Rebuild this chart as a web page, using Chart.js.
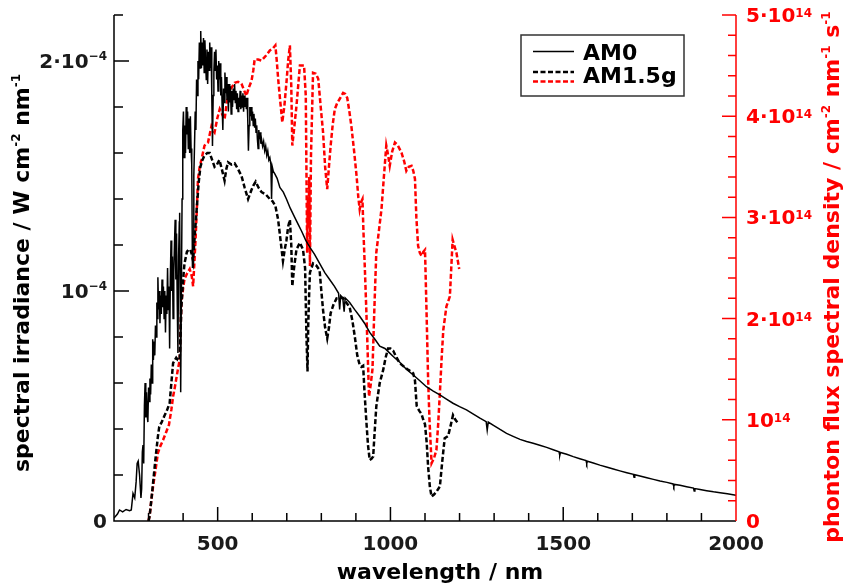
<!DOCTYPE html>
<html>
<head>
<meta charset="utf-8">
<script src="https://cdn.jsdelivr.net/npm/chart.js@4.4.1/dist/chart.umd.min.js"></script>
<style>
  html, body { margin: 0; padding: 0; background: #fff; }
</style>
</head>
<body>
<canvas id="spectrum" width="846" height="588"></canvas>
<script>
// ---- data ----
// irradiance in units of 1e-4 W cm^-2 nm^-1, photon flux in units of 1e14 cm^-2 nm^-1 s^-1
const AM0_NM = [200, 210, 216, 225, 235, 245, 250, 255, 260, 264, 267, 270, 274, 278,
  280, 282, 284, 286, 288, 290, 292, 294, 296, 298,
  300, 302, 304, 306, 308, 310, 312, 314, 316, 318,
  320, 322, 324, 326, 327, 329, 331, 333, 335, 337,
  339, 341, 343, 345, 347, 349, 351, 353, 355, 357,
  359, 361, 363, 365, 367, 369, 371, 373, 375, 377,
  379, 381, 383, 385, 387, 389, 390, 392, 393, 395,
  397, 399, 401, 403, 405, 407, 409, 411, 413, 415,
  417, 419, 421, 423, 425, 427, 429, 431, 433, 435,
  437, 439, 441, 443, 445, 447, 449, 451, 453, 455,
  457, 459, 461, 463, 465, 467, 469, 471, 473, 475,
  477, 479, 481, 483, 485, 487, 489, 491, 493, 495,
  497, 499, 501, 503, 505, 507, 509, 511, 513, 515,
  517, 519, 521, 523, 525, 527, 529, 531, 533, 535,
  537, 539, 541, 543, 545, 547, 549, 551, 553, 555,
  557, 559, 561, 563, 565, 567, 569, 571, 573, 575,
  577, 579, 581, 583, 585, 587, 589, 591, 593, 595,
  597, 599, 601, 603, 605, 607, 609, 611, 613, 615,
  617, 619, 621, 623, 625, 627, 630, 633, 636, 639,
  642, 645, 648, 651, 654, 656, 658, 661, 665,
  672, 680, 690, 699, 710, 723, 733, 743, 755, 767, 780, 795, 810, 824, 838, 850, 853, 856, 862, 866,
  869, 882, 896, 911, 925, 940, 955, 969, 984, 998, 1012, 1027, 1046, 1066, 1085, 1104, 1124, 1143, 1162, 1181,
  1200, 1220, 1240, 1259, 1277, 1280, 1283, 1297, 1316, 1336, 1355, 1375, 1394, 1413, 1432, 1452, 1471, 1488, 1490, 1492,
  1510, 1529, 1548, 1566, 1568, 1570, 1587, 1606, 1625, 1645, 1664, 1684, 1703, 1705, 1707, 1722, 1742, 1761, 1780, 1800,
  1818, 1820, 1822, 1838, 1857, 1877, 1879, 1881, 1896, 1915, 1935, 1954, 1975, 2000];
const AM0_IRR = [0.013, 0.03, 0.048, 0.04, 0.05, 0.045, 0.048, 0.12, 0.10, 0.17, 0.25, 0.26, 0.20, 0.10,
  0.14, 0.30, 0.33, 0.25, 0.50, 0.60, 0.45, 0.56, 0.46, 0.43,
  0.58, 0.52, 0.62, 0.55, 0.68, 0.60, 0.79, 0.70, 0.78, 0.72,
  0.85, 0.80, 0.95, 0.88, 1.06, 0.92, 1.00, 0.86, 0.98, 0.90,
  1.05, 0.93, 1.02, 0.88, 1.00, 0.82, 0.98, 0.90, 1.10, 0.92,
  1.02, 0.75, 1.05, 1.22, 1.00, 1.15, 0.88, 1.08, 1.20, 1.31,
  1.05, 1.25, 0.95, 0.73, 1.15, 1.30, 1.34, 0.90, 0.56, 1.00,
  1.40, 1.70, 1.78, 1.58, 1.72, 1.60, 1.80, 1.68, 1.78, 1.62,
  1.75, 1.60, 1.76, 1.62, 1.55, 1.10, 1.20, 1.50, 1.63, 1.78,
  1.70, 1.92, 1.85, 2.00, 1.92, 2.08, 1.97, 2.13, 1.97, 2.08,
  1.98, 2.10, 1.95, 2.09, 2.00, 1.92, 2.05, 1.90, 2.04, 1.96,
  2.08, 1.97, 2.06, 1.85, 1.63, 1.85, 1.95, 2.04, 1.96, 2.05,
  1.92, 1.98, 1.87, 2.00, 1.92, 1.99, 1.85, 1.93, 1.80, 1.70,
  1.88, 1.82, 1.95, 1.86, 1.93, 1.83, 1.90, 1.78, 1.90, 1.82,
  1.89, 1.77, 1.87, 1.80, 1.88, 1.83, 1.90, 1.82, 1.87, 1.79,
  1.86, 1.78, 1.84, 1.80, 1.87, 1.79, 1.85, 1.80, 1.86, 1.78,
  1.85, 1.80, 1.84, 1.79, 1.84, 1.75, 1.61, 1.72, 1.80, 1.76,
  1.80, 1.74, 1.78, 1.72, 1.77, 1.71, 1.75, 1.69, 1.72, 1.66,
  1.62, 1.70, 1.66, 1.69, 1.64, 1.66, 1.63, 1.65, 1.61, 1.63,
  1.59, 1.61, 1.57, 1.58, 1.55, 1.40, 1.54, 1.52, 1.51,
  1.49, 1.45, 1.43, 1.40, 1.36, 1.32, 1.29, 1.26, 1.22, 1.19, 1.16, 1.12, 1.08, 1.05, 1.02, 0.99, 0.92, 0.98, 0.97, 0.91,
  0.97, 0.95, 0.92, 0.89, 0.86, 0.82, 0.79, 0.76, 0.75, 0.73, 0.71, 0.69, 0.66, 0.635, 0.61, 0.584, 0.565, 0.548, 0.53, 0.512,
  0.497, 0.483, 0.465, 0.447, 0.432, 0.395, 0.43, 0.417, 0.399, 0.381, 0.368, 0.355, 0.346, 0.338, 0.329, 0.32, 0.31, 0.301, 0.285, 0.298,
  0.29, 0.28, 0.271, 0.263, 0.25, 0.26, 0.252, 0.243, 0.235, 0.226, 0.218, 0.21, 0.203, 0.19, 0.201, 0.196, 0.188, 0.181, 0.174, 0.168,
  0.161, 0.15, 0.159, 0.155, 0.149, 0.143, 0.13, 0.141, 0.137, 0.132, 0.127, 0.123, 0.118, 0.112];

const AM15_NM = [300, 303, 308, 313, 320, 327, 331, 338, 345, 353, 361, 366, 371, 376, 380, 385, 390, 395, 400, 404,
  411, 416, 421, 425, 429, 434, 440, 445, 450, 456, 462, 470, 477, 484, 491, 498, 505, 512, 520, 525,
  530, 540, 549, 559, 569, 578, 588, 593, 598, 604, 610, 618, 627, 639, 651, 659, 667, 675, 682, 689,
  694, 699, 704, 709, 713, 716, 721, 728, 738, 747, 753, 757, 760, 762, 765, 767, 776, 786, 795, 800,
  805, 811, 817, 822, 827, 835, 844, 853, 863, 872, 882, 890, 897, 904, 911, 916, 921, 925, 930, 935,
  940, 945, 950, 954, 959, 964, 969, 979, 986, 993, 1000, 1008, 1018, 1027, 1040, 1052, 1062, 1066, 1071, 1076,
  1083, 1090, 1095, 1100, 1105, 1109, 1114, 1119, 1126, 1133, 1143, 1150, 1157, 1167, 1175, 1181, 1188, 1196];
const AM15_IRR = [0.0, 0.02, 0.09, 0.165, 0.27, 0.367, 0.41, 0.43, 0.454, 0.48, 0.512, 0.60, 0.686, 0.70, 0.71, 0.70, 0.70, 0.93, 1.05, 1.12,
  1.17, 1.18, 1.18, 1.16, 1.13, 1.25, 1.37, 1.47, 1.54, 1.57, 1.59, 1.60, 1.60, 1.57, 1.54, 1.55, 1.57, 1.53, 1.48, 1.53,
  1.56, 1.55, 1.555, 1.53, 1.50, 1.45, 1.40, 1.42, 1.44, 1.46, 1.475, 1.45, 1.43, 1.42, 1.40, 1.39, 1.37, 1.31, 1.22, 1.13,
  1.18, 1.22, 1.28, 1.31, 1.20, 1.02, 1.10, 1.18, 1.21, 1.18, 1.10, 0.80, 0.65, 0.85, 1.00, 1.08, 1.12, 1.11, 1.09, 1.00,
  0.917, 0.84, 0.794, 0.84, 0.904, 0.94, 0.968, 0.97, 0.97, 0.95, 0.93, 0.87, 0.80, 0.72, 0.678, 0.67, 0.675, 0.56, 0.44, 0.33,
  0.265, 0.27, 0.28, 0.38, 0.497, 0.55, 0.60, 0.657, 0.71, 0.75, 0.75, 0.74, 0.71, 0.686, 0.67, 0.657, 0.648, 0.642, 0.61, 0.50,
  0.48, 0.465, 0.44, 0.42, 0.34, 0.236, 0.15, 0.106, 0.115, 0.127, 0.15, 0.26, 0.36, 0.37, 0.42, 0.46, 0.44, 0.425];

const FLUX_NM = [300, 304, 308, 313, 320, 327, 334, 342, 350, 359, 366, 371, 376, 380, 385, 390, 395, 400, 404, 412,
  419, 425, 429, 436, 440, 443, 448, 453, 462, 472, 477, 482, 487, 491, 499, 506, 513, 520, 525, 530,
  540, 549, 559, 569, 576, 583, 590, 598, 603, 607, 617, 627, 640, 651, 660, 667, 671, 675, 681, 687,
  693, 699, 704, 709, 713, 716, 722, 728, 733, 738, 750, 755, 759, 761, 763, 765, 767, 770, 776, 784,
  791, 798, 805, 811, 817, 822, 827, 833, 839, 846, 853, 863, 869, 875, 881, 887, 895, 902, 907, 911,
  915, 919, 922, 926, 930, 933, 938, 943, 948, 953, 959, 966, 974, 981, 988, 993, 998, 1005, 1013, 1020,
  1032, 1040, 1046, 1053, 1061, 1066, 1071, 1075, 1080, 1085, 1090, 1095, 1100, 1105, 1109, 1113, 1119, 1126, 1133, 1138,
  1143, 1148, 1153, 1162, 1172, 1176, 1180, 1185, 1191, 1199];
const FLUX = [0.0, 0.08, 0.2, 0.34, 0.5, 0.67, 0.74, 0.80, 0.87, 0.95, 1.10, 1.23, 1.32, 1.40, 1.50, 1.59, 2.16, 2.30, 2.39, 2.45,
  2.49, 2.42, 2.32, 2.78, 3.10, 3.38, 3.50, 3.57, 3.71, 3.74, 3.82, 3.90, 3.86, 3.84, 3.98, 4.07, 4.02, 3.97, 4.10, 4.20,
  4.28, 4.33, 4.34, 4.32, 4.26, 4.20, 4.28, 4.35, 4.45, 4.56, 4.56, 4.55, 4.60, 4.65, 4.67, 4.70, 4.55, 4.37, 4.15, 3.94,
  4.10, 4.33, 4.55, 4.70, 4.30, 3.71, 3.90, 4.10, 4.30, 4.50, 4.50, 4.20, 2.65, 3.20, 2.91, 3.40, 2.52, 3.60, 4.43, 4.42,
  4.37, 4.10, 3.84, 3.50, 3.28, 3.50, 3.71, 3.92, 4.07, 4.13, 4.17, 4.23, 4.22, 4.18, 4.05, 3.90, 3.65, 3.41, 3.20, 3.08,
  3.15, 3.18, 2.85, 2.49, 2.10, 1.79, 1.23, 1.35, 1.50, 2.05, 2.65, 2.85, 3.08, 3.40, 3.71, 3.62, 3.51, 3.65, 3.74, 3.72,
  3.64, 3.55, 3.46, 3.50, 3.51, 3.46, 3.38, 3.00, 2.72, 2.65, 2.62, 2.66, 2.68, 1.99, 1.40, 1.00, 0.57, 0.62, 0.70, 0.95,
  1.26, 1.60, 1.89, 2.12, 2.22, 2.50, 2.78, 2.72, 2.65, 2.49];

// axis ticks: [value, base text, superscript]
const X_TICKS = [[500, '500'], [1000, '1000'], [1500, '1500'], [2000, '2000']];
const Y_TICKS = [[0, '0', ''], [1, '10', '−4'], [2, '2·10', '−4']];
const Y2_TICKS = [[0, '0', ''], [1, '10', '14'], [2, '2·10', '14'], [3, '3·10', '14'], [4, '4·10', '14'], [5, '5·10', '14']];

const RED = '#ff0000';
const INK = '#1a1a1a';
const FONT = '"DejaVu Sans", sans-serif';

const pts = (xs, ys) => xs.map((x, i) => ({ x, y: ys[i] }));

// draws text with superscript parts; parts = [[text, isSup], ...]
function drawRich(ctx, parts, x, y, size, align, supSize, raise) {
  const sizes = parts.map(p => (p[1] ? supSize : size));
  let w = 0;
  parts.forEach((p, i) => { ctx.font = `bold ${sizes[i]}px ${FONT}`; w += ctx.measureText(p[0]).width; });
  let cx = align === 'center' ? x - w / 2 : align === 'right' ? x - w : x;
  ctx.textAlign = 'left';
  ctx.textBaseline = 'alphabetic';
  parts.forEach((p, i) => {
    ctx.font = `bold ${sizes[i]}px ${FONT}`;
    ctx.fillText(p[0], cx, p[1] ? y - raise : y);
    cx += ctx.measureText(p[0]).width;
  });
}

const axesPlugin = {
  id: 'axes',
  afterDatasetsDraw(chart) {
    const { ctx, chartArea: a, scales } = chart;
    ctx.save();
    ctx.lineWidth = 1.5;
    ctx.lineCap = 'butt';

    // bottom + left axis (black)
    ctx.strokeStyle = '#000';
    ctx.beginPath();
    ctx.moveTo(a.left, a.top); ctx.lineTo(a.left, a.bottom); ctx.lineTo(a.right, a.bottom);
    for (let v = 300; v < 2000; v += 100) {
      const px = scales.x.getPixelForValue(v);
      const len = v % 500 === 0 ? 14 : 8;
      ctx.moveTo(px, a.bottom); ctx.lineTo(px, a.bottom - len);
    }
    for (let v = 0.2; v < 2.2; v += 0.2) {
      const py = scales.y.getPixelForValue(v);
      const major = Math.abs(v - Math.round(v)) < 1e-6;
      ctx.moveTo(a.left, py); ctx.lineTo(a.left + (major ? 15 : 9), py);
    }
    ctx.stroke();

    // right axis (red)
    ctx.strokeStyle = RED;
    ctx.beginPath();
    ctx.moveTo(a.right, a.top); ctx.lineTo(a.right, a.bottom);
    for (let v = 0.2; v <= 5.001; v += 0.2) {
      const py = scales.y2.getPixelForValue(v);
      const major = Math.abs(v - Math.round(v)) < 1e-6;
      ctx.moveTo(a.right, py); ctx.lineTo(a.right - (major ? 14 : 8), py);
    }
    ctx.stroke();
    ctx.restore();
  },
  afterDraw(chart) {
    const { ctx, chartArea: a, scales } = chart;
    ctx.save();

    // tick labels
    ctx.fillStyle = INK;
    X_TICKS.forEach(([v, t]) => drawRich(ctx, [[t, false]], scales.x.getPixelForValue(v), a.bottom + 29, 20, 'center', 12, 5));
    Y_TICKS.forEach(([v, t, s]) => drawRich(ctx, [[t, false], [s, true]], 107, scales.y.getPixelForValue(v) + 7, 20, 'right', 12, 8));
    ctx.fillStyle = RED;
    Y2_TICKS.forEach(([v, t, s]) => drawRich(ctx, [[t, false], [s, true]], 746, scales.y2.getPixelForValue(v) + 7, 20, 'left', 12, 5));

    // axis titles
    ctx.fillStyle = '#000';
    drawRich(ctx, [['wavelength / nm', false]], 440, 579, 22, 'center', 13, 8);

    ctx.save();
    ctx.translate(29, 273);
    ctx.rotate(-Math.PI / 2);
    drawRich(ctx, [['spectral irradiance / W cm', false], ['-2', true], [' nm', false], ['-1', true]], 0, 0, 22, 'center', 12, 9);
    ctx.restore();

    ctx.save();
    ctx.fillStyle = RED;
    ctx.translate(839, 277);
    ctx.rotate(-Math.PI / 2);
    drawRich(ctx, [['phonton flux spectral density / cm', false], ['-2', true], [' nm', false], ['-1', true], [' s', false], ['-1', true]], 0, 0, 22, 'center', 12, 9);
    ctx.restore();

    // legend
    const ds = chart.data.datasets;
    ctx.strokeStyle = '#333';
    ctx.lineWidth = 1.5;
    ctx.strokeRect(521, 35, 163, 61);
    const sample = (d, y) => {
      ctx.beginPath();
      ctx.strokeStyle = d.borderColor;
      ctx.lineWidth = d.borderWidth;
      ctx.setLineDash(d.borderDash || []);
      ctx.moveTo(533, y); ctx.lineTo(574, y);
      ctx.stroke();
    };
    sample({ ...ds[0], borderWidth: 1.3 }, 51.5);
    sample(ds[1], 72);
    sample(ds[2], 81.5);
    ctx.setLineDash([]);
    ctx.fillStyle = '#000';
    drawRich(ctx, [[ds[0].label, false]], 583, 60, 22, 'left', 13, 8);
    drawRich(ctx, [[ds[1].label, false]], 583, 83, 22, 'left', 13, 8);

    ctx.restore();
  }
};

new Chart(document.getElementById('spectrum'), {
  type: 'line',
  data: {
    datasets: [
      {
        label: 'AM0',
        data: pts(AM0_NM, AM0_IRR),
        yAxisID: 'y',
        borderColor: '#000',
        borderWidth: 1.5,
        pointRadius: 0,
        tension: 0,
      },
      {
        label: 'AM1.5g',
        data: pts(AM15_NM, AM15_IRR),
        yAxisID: 'y',
        borderColor: '#000',
        borderWidth: 2.5,
        borderDash: [5, 2.5],
        pointRadius: 0,
        tension: 0,
      },
      {
        label: 'AM1.5g',
        data: pts(FLUX_NM, FLUX),
        yAxisID: 'y2',
        borderColor: RED,
        borderWidth: 2.5,
        borderDash: [5, 2.5],
        pointRadius: 0,
        tension: 0,
      },
    ],
  },
  options: {
    responsive: false,
    animation: false,
    layout: { padding: { top: 15, left: 0, right: 0, bottom: 0 } },
    plugins: { legend: { display: false }, tooltip: { enabled: false } },
    scales: {
      x: {
        type: 'linear', min: 200, max: 2000,
        grid: { display: false }, border: { display: false }, ticks: { display: false },
        afterFit: s => { s.height = 67; },
      },
      y: {
        position: 'left', min: 0, max: 2.2,
        grid: { display: false }, border: { display: false }, ticks: { display: false },
        afterFit: s => { s.width = 114; },
      },
      y2: {
        position: 'right', min: 0, max: 5,
        grid: { display: false }, border: { display: false }, ticks: { display: false },
        afterFit: s => { s.width = 110; },
      },
    },
  },
  plugins: [axesPlugin],
});
</script>
</body>
</html>
